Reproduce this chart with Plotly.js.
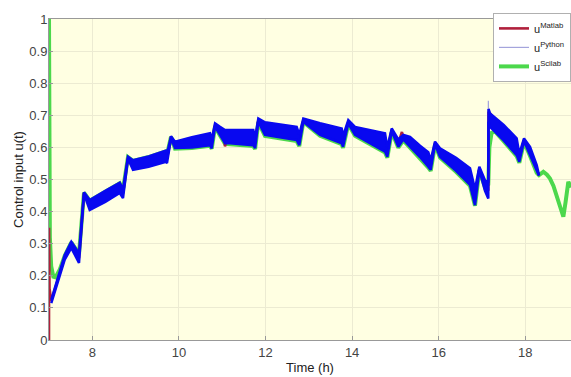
<!DOCTYPE html>
<html>
<head>
<meta charset="utf-8">
<script src="https://cdn.plot.ly/plotly-3.0.1.min.js"></script>
<style>html,body{margin:0;padding:0;background:#fff;}#chart{width:571px;height:377px;}</style>
</head>
<body>
<div id="chart"></div>
<script>
// Python band (dense oscillation envelope)
const pythonTime = [7.053, 7.2, 7.363, 7.515, 7.693, 7.808, 7.94, 8.3, 8.633, 8.709, 8.824, 8.94, 9.3, 9.702, 9.725, 9.818, 9.91, 10.3, 10.718, 10.758, 10.834, 10.949, 11.065, 11.18, 11.718, 11.76, 11.834, 11.988, 12.35, 12.72, 12.78, 12.873, 13.259, 13.76, 13.79, 13.912, 14.067, 14.4, 14.76, 14.813, 14.915, 15.067, 15.182, 15.337, 15.568, 15.76, 15.815, 15.915, 16.03, 16.4, 16.723, 16.838, 16.938, 17.069, 17.145, 17.15, 17.185, 17.5, 17.8, 17.861, 17.97, 18.109, 18.263, 18.316];
const pythonUpper = [0.125, 0.19, 0.265, 0.306, 0.27, 0.46, 0.436, 0.465, 0.49, 0.47, 0.571, 0.56, 0.572, 0.59, 0.58, 0.635, 0.618, 0.632, 0.644, 0.625, 0.675, 0.664, 0.654, 0.654, 0.654, 0.63, 0.69, 0.678, 0.67, 0.664, 0.64, 0.69, 0.675, 0.659, 0.635, 0.685, 0.664, 0.655, 0.644, 0.6, 0.659, 0.625, 0.639, 0.633, 0.605, 0.585, 0.56, 0.618, 0.597, 0.568, 0.535, 0.47, 0.54, 0.498, 0.49, 0.72, 0.706, 0.67, 0.628, 0.58, 0.628, 0.602, 0.545, 0.514];
const pythonLower = [0.115, 0.18, 0.25, 0.287, 0.24, 0.455, 0.405, 0.43, 0.458, 0.442, 0.565, 0.53, 0.54, 0.555, 0.551, 0.628, 0.598, 0.6, 0.607, 0.597, 0.665, 0.639, 0.613, 0.613, 0.607, 0.598, 0.68, 0.639, 0.63, 0.623, 0.607, 0.68, 0.639, 0.613, 0.602, 0.675, 0.639, 0.615, 0.587, 0.571, 0.65, 0.602, 0.625, 0.602, 0.57, 0.54, 0.53, 0.61, 0.571, 0.527, 0.483, 0.42, 0.53, 0.465, 0.441, 0.68, 0.664, 0.622, 0.576, 0.555, 0.62, 0.576, 0.524, 0.512];
// thin Python spike at the 17 h switch
const pythonSpikeTime = [17.145, 17.146, 17.149];
const pythonSpikeU = [0.49, 0.745, 0.72];

// Scilab
const scilabTime = [7.0, 7.003, 7.008, 7.02, 7.05, 7.1, 7.15, 7.25, 7.363, 7.515, 7.693, 7.808, 7.94, 8.3, 8.633, 8.709, 8.824, 8.94, 9.3, 9.702, 9.725, 9.818, 9.91, 10.3, 10.718, 10.758, 10.834, 10.949, 11.065, 11.18, 11.718, 11.76, 11.834, 11.988, 12.35, 12.72, 12.78, 12.873, 13.259, 13.76, 13.79, 13.912, 14.067, 14.4, 14.76, 14.813, 14.915, 15.067, 15.182, 15.337, 15.568, 15.76, 15.815, 15.915, 16.03, 16.4, 16.723, 16.838, 16.938, 17.069, 17.145, 17.17, 17.22, 17.3, 17.5, 17.8, 17.861, 17.97, 18.109, 18.263, 18.316, 18.416, 18.5, 18.57, 18.65, 18.725, 18.8, 18.878, 18.93, 18.993, 19.055];
const scilabU = [1.0, 0.7, 0.45, 0.32, 0.23, 0.197, 0.195, 0.22, 0.262, 0.304, 0.268, 0.459, 0.434, 0.463, 0.488, 0.468, 0.57, 0.558, 0.57, 0.588, 0.578, 0.633, 0.596, 0.598, 0.605, 0.596, 0.664, 0.637, 0.611, 0.61, 0.604, 0.595, 0.679, 0.636, 0.627, 0.62, 0.604, 0.679, 0.636, 0.61, 0.599, 0.673, 0.636, 0.612, 0.584, 0.568, 0.648, 0.599, 0.622, 0.599, 0.567, 0.537, 0.527, 0.608, 0.568, 0.524, 0.48, 0.418, 0.528, 0.476, 0.485, 0.6, 0.645, 0.65, 0.619, 0.573, 0.552, 0.617, 0.573, 0.521, 0.514, 0.524, 0.515, 0.503, 0.48, 0.446, 0.41, 0.384, 0.43, 0.493, 0.475];

// Matlab
const matlabTime = [7.0, 7.0005, 7.012, 7.053, 7.363, 7.515, 7.693, 7.808, 7.94, 8.633, 8.709, 8.824, 8.94, 9.702, 9.725, 9.818, 9.91, 10.718, 10.758, 10.834, 10.949, 11.04, 11.065, 11.1, 11.718, 11.76, 11.834, 11.988, 12.72, 12.78, 12.873, 13.259, 13.76, 13.79, 13.912, 14.067, 14.76, 14.813, 14.915, 15.067, 15.15, 15.182, 15.337, 15.76, 15.815, 15.915, 16.03, 16.723, 16.838, 16.938, 17.069, 17.145, 17.147, 17.185, 17.8, 17.861, 17.97, 18.109, 18.263, 18.316];
const matlabU = [0.0, 0.35, 0.16, 0.122, 0.258, 0.297, 0.255, 0.457, 0.42, 0.474, 0.456, 0.568, 0.545, 0.572, 0.565, 0.631, 0.608, 0.625, 0.611, 0.67, 0.651, 0.64, 0.603, 0.625, 0.63, 0.614, 0.685, 0.658, 0.643, 0.623, 0.685, 0.657, 0.636, 0.618, 0.68, 0.651, 0.615, 0.585, 0.655, 0.613, 0.648, 0.632, 0.617, 0.562, 0.545, 0.614, 0.584, 0.509, 0.445, 0.535, 0.48, 0.465, 0.711, 0.706, 0.602, 0.567, 0.624, 0.589, 0.534, 0.513];

const xTicks = [8, 10, 12, 14, 16, 18];
const yTicks = [0, 0.1, 0.2, 0.3, 0.4, 0.5, 0.6, 0.7, 0.8, 0.9, 1];
const yTickText = ['0', '0.1', '0.2', '0.3', '0.4', '0.5', '0.6', '0.7', '0.8', '0.9', '1'];

const font = 'Liberation Sans, Arial, Helvetica, sans-serif';
const bandBlue = '#0808f0';

const traces = [
  {x: scilabTime, y: scilabU, type: 'scatter', mode: 'lines', name: 'u<sup>Scilab</sup>',
   legendrank: 3, line: {color: '#4cd84c', width: 4}},
  {x: matlabTime, y: matlabU, type: 'scatter', mode: 'lines', name: 'u<sup>Matlab</sup>',
   legendrank: 1, line: {color: '#b0203c', width: 2.6}},
  {x: pythonSpikeTime, y: pythonSpikeU, type: 'scatter', mode: 'lines', name: 'u<sup>Python</sup>',
   legendrank: 2, line: {color: '#a4a4dc', width: 1.2}},
  {x: pythonTime, y: pythonUpper, type: 'scatter', mode: 'lines', name: 'python band top',
   showlegend: false, line: {color: bandBlue, width: 2.5}},
  {x: pythonTime, y: pythonLower, type: 'scatter', mode: 'lines', name: 'python band bottom',
   showlegend: false, fill: 'tonexty', fillcolor: bandBlue, line: {color: bandBlue, width: 2.5}}
];

const layout = {
  width: 571, height: 377,
  margin: {l: 49, r: 0, t: 19, b: 37},
  paper_bgcolor: '#ffffff',
  plot_bgcolor: 'rgb(255,255,226)',
  font: {family: font, size: 13, color: '#444'},
  showlegend: true,
  legend: {x: 1, y: 1.019, xanchor: 'right', yanchor: 'top', bgcolor: '#ffffff',
           traceorder: 'normal',
           bordercolor: '#b0b0b0', borderwidth: 1, font: {family: font, size: 11, color: '#222'},
           tracegroupgap: 0},
  xaxis: {range: [7, 19.055], tickvals: xTicks, ticktext: xTicks.map(String),
          showgrid: true, gridcolor: '#ecebd2', gridwidth: 1, zeroline: false,
          showline: true, linecolor: '#999', linewidth: 1, mirror: true,
          ticks: 'inside', ticklen: 4, tickcolor: '#999',
          tickfont: {family: font, size: 13, color: '#444'},
          title: {text: 'Time (h)', font: {family: font, size: 13, color: '#222'}, standoff: 4}},
  yaxis: {range: [0, 1], tickvals: yTicks, ticktext: yTickText,
          showgrid: true, gridcolor: '#ecebd2', gridwidth: 1, zeroline: false,
          showline: true, linecolor: '#999', linewidth: 1, mirror: true,
          ticks: 'inside', ticklen: 4, tickcolor: '#999', ticklabelstandoff: -2,
          tickfont: {family: font, size: 13, color: '#444'},
          title: {text: 'Control input u(t)', font: {family: font, size: 13, color: '#222'}, standoff: 2}}
};

Plotly.newPlot('chart', traces, layout, {staticPlot: true, displayModeBar: false});
</script>
</body>
</html>
